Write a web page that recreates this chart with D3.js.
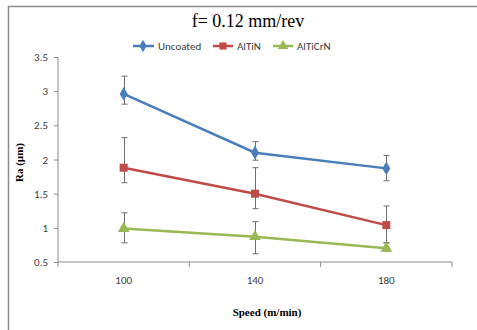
<!DOCTYPE html>
<html>
<head>
<meta charset="utf-8">
<script src="https://cdn.jsdelivr.net/npm/d3@7"></script>
<style>
  body { margin: 0; background: #fff; }
  svg { display: block; }
</style>
</head>
<body>
<div id="chart"></div>
<script>
// data
const speeds = ["100", "140", "180"];
const seriesNames = ["Uncoated", "AlTiN", "AlTiCrN"];
const uncoated = [2.96, 2.10, 1.87];
const uncoatedHi = [3.22, 2.26, 2.06];
const uncoatedLo = [2.81, 1.99, 1.69];
const altin = [1.88, 1.50, 1.04];
const altinHi = [2.32, 1.88, 1.32];
const altinLo = [1.66, 1.28, 0.78];
const altincrn = [0.99, 0.87, 0.70];
const altincrnHi = [1.22, 1.09, 0.78];
const altincrnLo = [0.78, 0.62, 0.66];
const yTicks = [0.5, 1, 1.5, 2, 2.5, 3, 3.5];

const colors = ["#4a7ebb", "#be4b48", "#98b954"];
const series = [
    {name: seriesNames[0], values: uncoated, hi: uncoatedHi, lo: uncoatedLo, shape: d3.symbolDiamond},
    {name: seriesNames[1], values: altin, hi: altinHi, lo: altinLo, shape: d3.symbolSquare},
    {name: seriesNames[2], values: altincrn, hi: altincrnHi, lo: altincrnLo, shape: d3.symbolTriangle}
];

const width = 477, height = 330;
const margin = {top: 57, right: 25, bottom: 68, left: 58};
const labelFont = "Carlito, Calibri, Open Sans, sans-serif";

const svg = d3.select("#chart").append("svg")
    .attr("width", width)
    .attr("height", height);

// chart frame
svg.append("path")
    .attr("d", `M8.5,${height} V6.5 H${width}`)
    .attr("fill", "none")
    .attr("stroke", "#8c8c8c")
    .attr("stroke-width", 1.5);

const x = d3.scaleBand()
    .domain(speeds)
    .range([margin.left, width - margin.right]);

const y = d3.scaleLinear()
    .domain([0.5, 3.5])
    .range([height - margin.bottom, margin.top]);

// title
svg.append("text")
    .attr("x", 248)
    .attr("y", 27)
    .attr("text-anchor", "middle")
    .attr("font-family", "Liberation Serif, Times New Roman, serif")
    .attr("font-size", 18)
    .text("f= 0.12 mm/rev");

// y axis
const yAxis = svg.append("g")
    .attr("transform", `translate(${margin.left},0)`)
    .call(d3.axisLeft(y).tickValues(yTicks).tickSize(4).tickPadding(6).tickFormat(d3.format("")));
yAxis.selectAll("path, line").attr("stroke", "#8c8c8c");
yAxis.select(".domain").attr("d", `M-4,${y(3.5)}.5H0V${y(0.5)}`);
yAxis.selectAll("text")
    .attr("font-family", labelFont)
    .attr("font-size", 11)
    .attr("fill", "#404040");

// x axis, ticks between categories
const xAxis = svg.append("g")
    .attr("transform", `translate(0,${y(0.5)})`)
    .call(d3.axisBottom(x).tickSize(0).tickPadding(14));
xAxis.select(".domain").attr("stroke", "#8c8c8c").attr("d", `M${margin.left},0H${width - margin.right}`);
xAxis.selectAll("text")
    .attr("font-family", labelFont)
    .attr("font-size", 11)
    .attr("fill", "#404040");
xAxis.selectAll(".sep")
    .data(d3.range(speeds.length + 1))
    .join("line")
    .attr("class", "sep")
    .attr("x1", i => margin.left + i * x.bandwidth())
    .attr("x2", i => margin.left + i * x.bandwidth())
    .attr("y1", 0)
    .attr("y2", 5)
    .attr("stroke", "#8c8c8c");

// axis titles
svg.append("text")
    .attr("x", 267)
    .attr("y", 316)
    .attr("text-anchor", "middle")
    .attr("font-family", "Liberation Serif, Times New Roman, serif")
    .attr("font-weight", "bold")
    .attr("font-size", 11)
    .text("Speed (m/min)");

svg.append("text")
    .attr("transform", `translate(23,${(y(0.5) + y(3.5)) / 2 + 3}) rotate(-90)`)
    .attr("text-anchor", "middle")
    .attr("font-family", "Liberation Serif, Times New Roman, serif")
    .attr("font-weight", "bold")
    .attr("font-size", 11)
    .text("Ra (µm)");

const cx = d => x(d) + x.bandwidth() / 2;

// error bars
series.forEach(s => {
    const g = svg.append("g").attr("stroke", "#6e6e6e").attr("stroke-width", 1);
    speeds.forEach((sp, i) => {
        const px = Math.round(cx(sp)) + 0.5;
        g.append("line").attr("x1", px).attr("x2", px).attr("y1", y(s.hi[i])).attr("y2", y(s.lo[i]));
        g.append("line").attr("x1", px - 3).attr("x2", px + 3).attr("y1", y(s.hi[i])).attr("y2", y(s.hi[i]));
        g.append("line").attr("x1", px - 3).attr("x2", px + 3).attr("y1", y(s.lo[i])).attr("y2", y(s.lo[i]));
    });
});

// lines and markers
const line = d3.line()
    .x((d, i) => cx(speeds[i]))
    .y(d => y(d));

const markerSize = {Uncoated: 55, AlTiN: 64, AlTiCrN: 60};

series.forEach((s, k) => {
    svg.append("path")
        .datum(s.values)
        .attr("d", line)
        .attr("fill", "none")
        .attr("stroke", colors[k])
        .attr("stroke-width", 2.5);

    svg.selectAll(null)
        .data(s.values)
        .join("path")
        .attr("transform", (d, i) => `translate(${cx(speeds[i])},${y(d)})`)
        .attr("d", d3.symbol().type(s.shape).size(markerSize[s.name]))
        .attr("fill", colors[k]);
});

// legend
const legendX = [133, 213, 273];
const legend = svg.append("g").attr("transform", "translate(0,46)");
series.forEach((s, k) => {
    const lg = legend.append("g").attr("transform", `translate(${legendX[k]},0)`);
    lg.append("line")
        .attr("x1", 0).attr("x2", k === 0 ? 21 : 20)
        .attr("stroke", colors[k]).attr("stroke-width", 2.5);
    lg.append("path")
        .attr("transform", `translate(10,0)`)
        .attr("d", d3.symbol().type(s.shape).size(markerSize[s.name] * 0.8))
        .attr("fill", colors[k]);
    lg.append("text")
        .attr("x", k === 0 ? 25 : 24)
        .attr("y", 4)
        .attr("font-family", labelFont)
        .attr("font-size", 11)
        .attr("fill", "#404040")
        .text(s.name);
});
</script>
</body>
</html>
